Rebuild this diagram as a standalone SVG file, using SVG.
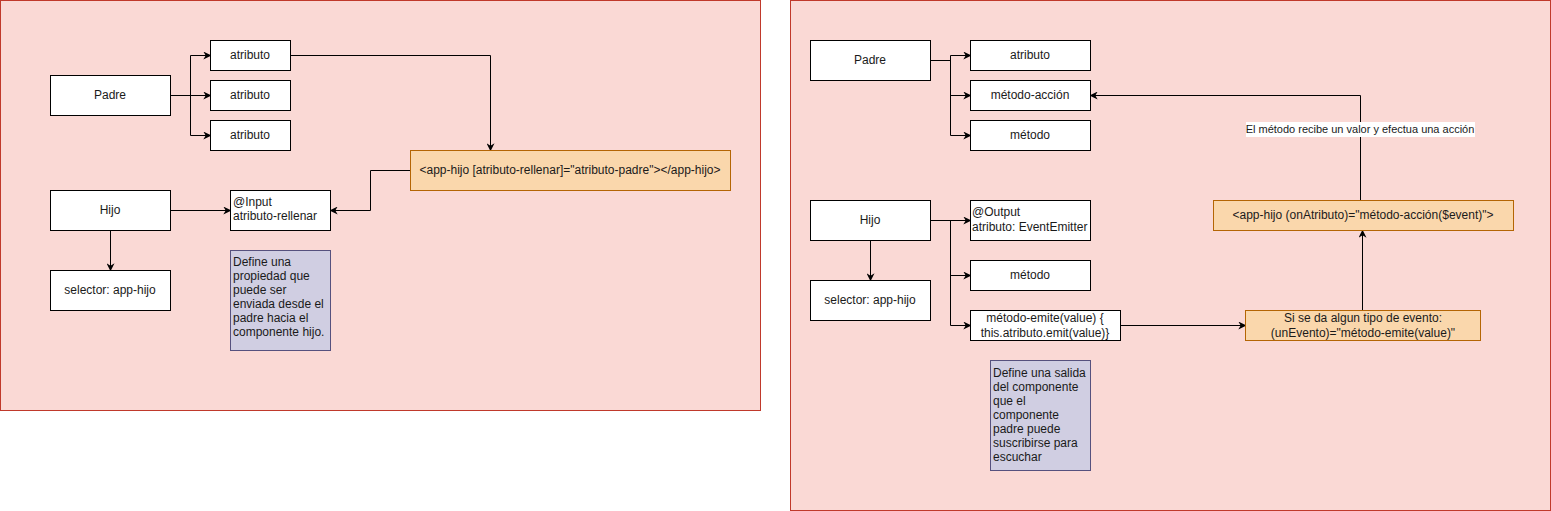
<svg xmlns="http://www.w3.org/2000/svg" width="1551" height="511" viewBox="0 0 1551 511">
<style>
text{font-family:"Liberation Sans",Arial,sans-serif;font-size:12px;fill:#1a1a1a}
.c{text-anchor:middle}
.box{fill:#ffffff;stroke:#000000;stroke-width:1}
.cont{fill:#fad9d5;stroke:#c0392b;stroke-width:1}
.org{fill:#fad7ac;stroke:#b46504;stroke-width:1}
.pur{fill:#d0cee2;stroke:#56517e;stroke-width:1}
.ln{fill:none;stroke:#000;stroke-width:1;marker-end:url(#a)}
</style>
<defs>
<marker id="a" viewBox="0 0 10 10" refX="9" refY="5" markerWidth="8" markerHeight="8" markerUnits="userSpaceOnUse" orient="auto">
<path d="M0,0 L10,5 L0,10 L3,5 Z" fill="#000"/>
</marker>
</defs>
<g id="container-left"><rect class="cont" x="0.5" y="0.5" width="760" height="410"/></g>
<g id="container-right"><rect class="cont" x="790.5" y="0.5" width="760" height="510"/></g>

<g id="connectors">
<g transform="translate(0.5,0.5)">
<path class="ln" d="M170,95 H190 V55 H210"/>
<path class="ln" d="M170,95 H210"/>
<path class="ln" d="M170,95 H190 V135 H210"/>
<path class="ln" d="M290,55 H490 V150"/>
<path class="ln" d="M410,170 H370 V210 H330"/>
<path class="ln" d="M170,210 H230"/>
<path class="ln" d="M110,230 V270"/>
<path class="ln" d="M930,60 H950 V55 H970"/>
<path class="ln" d="M930,60 H950 V95 H970"/>
<path class="ln" d="M930,60 H950 V135 H970"/>
<path class="ln" d="M930,220 H970"/>
<path class="ln" d="M930,220 H950 V275 H970"/>
<path class="ln" d="M930,220 H950 V325 H970"/>
<path class="ln" d="M870,240 V280"/>
<path class="ln" d="M1120,325 H1245"/>
<path class="ln" d="M1362,310 V230"/>
<path class="ln" d="M1360,200 V95 H1090"/>
</g>
<rect x="1246" y="122" width="229" height="15" fill="#ffffff"/>
<text class="c" x="1360" y="133" style="font-size:11px">El método recibe un valor y efectua una acción</text>
</g>

<g id="l-padre"><rect class="box" x="50.5" y="75.5" width="120" height="40"/><text class="c" x="110" y="99">Padre</text></g>
<g id="l-atributo1"><rect class="box" x="210.5" y="40.5" width="80" height="30"/><text class="c" x="250" y="59">atributo</text></g>
<g id="l-atributo2"><rect class="box" x="210.5" y="80.5" width="80" height="30"/><text class="c" x="250" y="99">atributo</text></g>
<g id="l-atributo3"><rect class="box" x="210.5" y="120.5" width="80" height="30"/><text class="c" x="250" y="139">atributo</text></g>
<g id="l-hijo"><rect class="box" x="50.5" y="190.5" width="120" height="40"/><text class="c" x="110" y="214">Hijo</text></g>
<g id="l-selector"><rect class="box" x="50.5" y="270.5" width="120" height="40"/><text class="c" x="110" y="294">selector: app-hijo</text></g>
<g id="l-input"><rect class="box" x="230.5" y="190.5" width="100" height="40"/><text x="233" y="206">@Input</text><text x="233" y="220">atributo-rellenar</text></g>
<g id="l-define"><rect class="pur" x="230.5" y="250.5" width="100" height="100"/>
<text x="233" y="266">Define una</text><text x="233" y="280">propiedad que</text><text x="233" y="294">puede ser</text><text x="233" y="308">enviada desde el</text><text x="233" y="322">padre hacia el</text><text x="233" y="336">componente hijo.</text></g>
<g id="l-apphijo"><rect class="org" x="410.5" y="150.5" width="320" height="40"/><text class="c" x="570" y="174">&lt;app-hijo [atributo-rellenar]="atributo-padre"&gt;&lt;/app-hijo&gt;</text></g>

<g id="r-padre"><rect class="box" x="810.5" y="40.5" width="120" height="40"/><text class="c" x="870" y="64">Padre</text></g>
<g id="r-atributo"><rect class="box" x="970.5" y="40.5" width="120" height="30"/><text class="c" x="1030" y="59">atributo</text></g>
<g id="r-metodo-accion"><rect class="box" x="970.5" y="80.5" width="120" height="30"/><text class="c" x="1030" y="99">método-acción</text></g>
<g id="r-metodo1"><rect class="box" x="970.5" y="120.5" width="120" height="30"/><text class="c" x="1030" y="139">método</text></g>
<g id="r-hijo"><rect class="box" x="810.5" y="200.5" width="120" height="40"/><text class="c" x="870" y="224">Hijo</text></g>
<g id="r-selector"><rect class="box" x="810.5" y="280.5" width="120" height="40"/><text class="c" x="870" y="304">selector: app-hijo</text></g>
<g id="r-output"><rect class="box" x="970.5" y="200.5" width="120" height="40"/><text x="972" y="216">@Output</text><text x="972" y="231">atributo: EventEmitter</text></g>
<g id="r-metodo2"><rect class="box" x="970.5" y="260.5" width="120" height="30"/><text class="c" x="1030" y="279">método</text></g>
<g id="r-emite"><rect class="box" x="970.5" y="310.5" width="150" height="30"/><text class="c" x="1045" y="322">método-emite(value) {</text><text class="c" x="1045" y="337">this.atributo.emit(value)}</text></g>
<g id="r-evento"><rect class="org" x="1245.5" y="310.5" width="235" height="30"/><text class="c" x="1363" y="322">Si se da algun tipo de evento:</text><text class="c" x="1363" y="337">(unEvento)="método-emite(value)"</text></g>
<g id="r-apphijo"><rect class="org" x="1213.5" y="200.5" width="300" height="30"/><text class="c" x="1363" y="219">&lt;app-hijo (onAtributo)="método-acción($event)"&gt;</text></g>
<g id="r-define"><rect class="pur" x="990.5" y="360.5" width="100" height="110"/>
<text x="993" y="377">Define una salida</text><text x="993" y="391">del componente</text><text x="993" y="405">que el</text><text x="993" y="419">componente</text><text x="993" y="433">padre puede</text><text x="993" y="447">suscribirse para</text><text x="993" y="461">escuchar</text></g>
</svg>
